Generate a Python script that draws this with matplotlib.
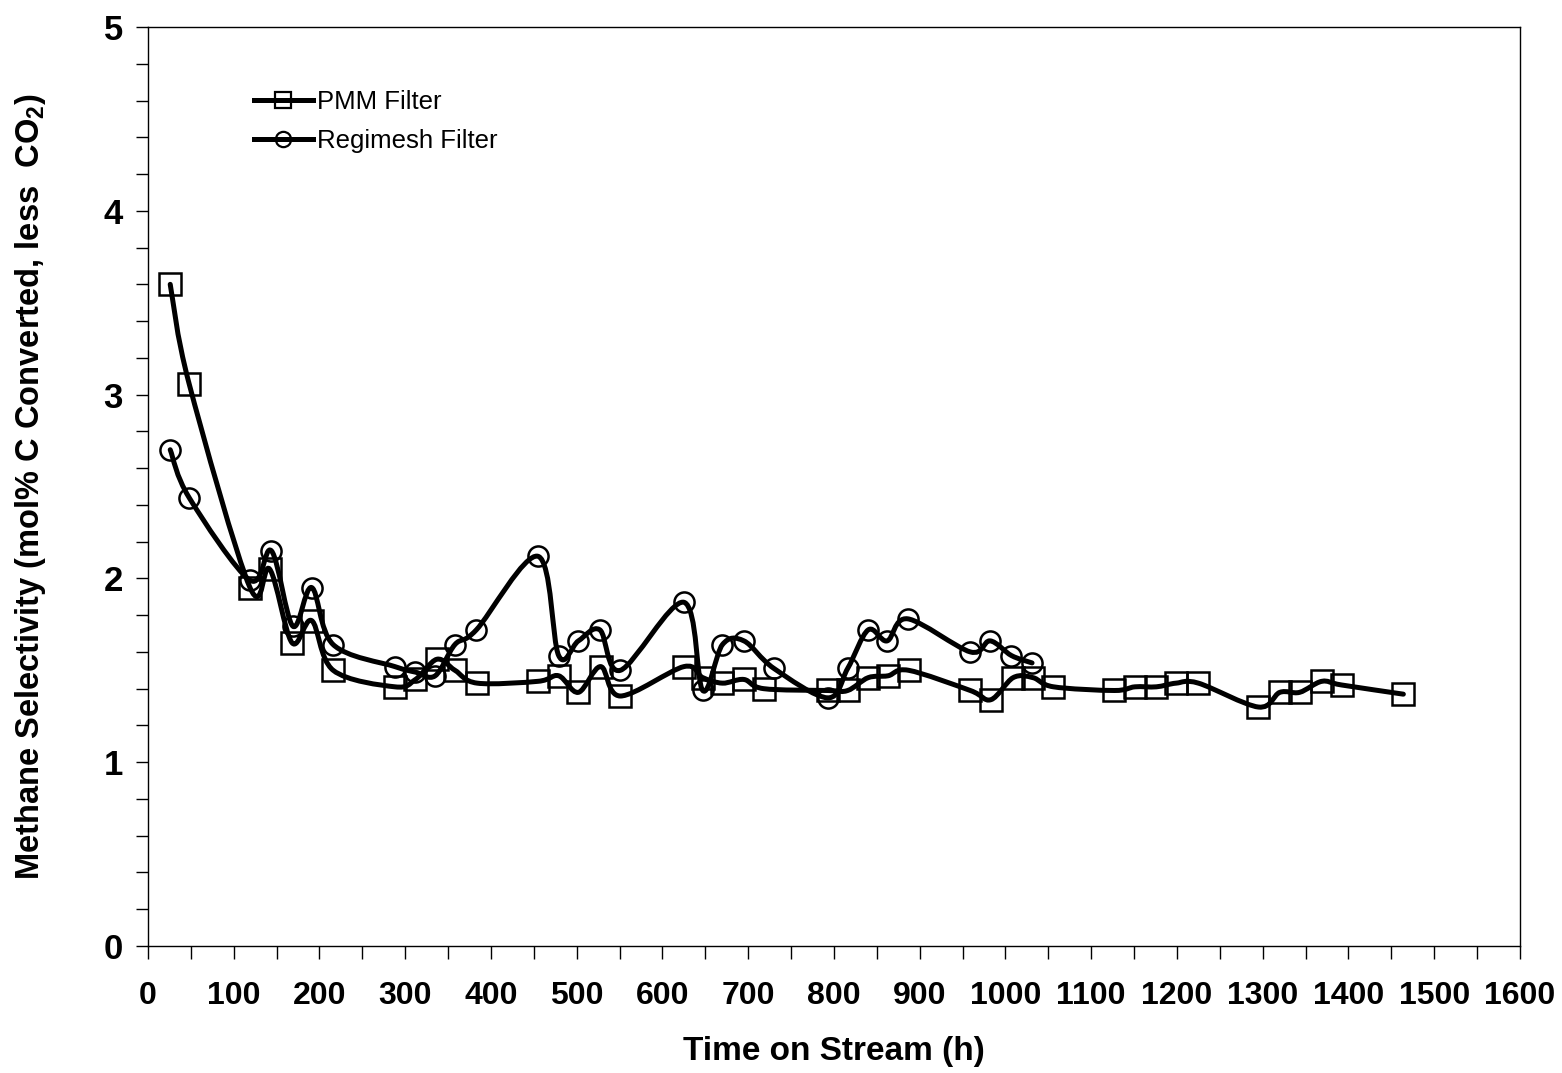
import numpy as np
import matplotlib
matplotlib.use("Agg")
from matplotlib import pyplot as plt
from matplotlib.path import Path
from matplotlib.patches import PathPatch
from matplotlib.lines import Line2D
from matplotlib.ticker import MultipleLocator

# PMM filter (squares)
pmm_t = [26, 48, 119, 142, 168, 191, 216, 288, 312, 337, 358, 384, 455, 479, 502, 528,
         551, 625, 647, 670, 695, 718, 793, 816, 840, 863, 887, 959, 983, 1009, 1032,
         1056, 1127, 1151, 1176, 1199, 1225, 1295, 1320, 1343, 1369, 1392, 1464]
pmm_s = [3.60, 3.06, 1.95, 2.05, 1.65, 1.77, 1.50, 1.41, 1.45, 1.56, 1.50, 1.43, 1.44, 1.47,
         1.38, 1.52, 1.36, 1.52, 1.46, 1.43, 1.45, 1.40, 1.39, 1.39, 1.46, 1.47, 1.50, 1.39,
         1.34, 1.46, 1.46, 1.41, 1.39, 1.41, 1.41, 1.43, 1.43, 1.30, 1.38, 1.38, 1.44, 1.42,
         1.37]

# Regimesh filter (circles)
reg_t = [26, 48, 119, 144, 169, 191, 216, 288, 312, 335, 358, 383, 455, 479, 502, 527,
         551, 625, 647, 670, 695, 730, 793, 816, 840, 862, 886, 959, 982, 1007, 1031]
reg_s = [2.70, 2.44, 1.99, 2.15, 1.74, 1.95, 1.64, 1.52, 1.49, 1.47, 1.64, 1.72, 2.12, 1.58,
         1.66, 1.72, 1.50, 1.87, 1.39, 1.64, 1.66, 1.51, 1.35, 1.51, 1.72, 1.66, 1.78, 1.60,
         1.66, 1.58, 1.54]


def smooth_path(x, y):
    # Excel-style smoothed line: cubic Bezier through each point
    p = np.column_stack([x, y]).astype(float)
    n = len(p)
    verts = [p[0]]
    codes = [Path.MOVETO]
    for i in range(n - 1):
        p0 = p[i - 1] if i > 0 else p[i]
        p1 = p[i]
        p2 = p[i + 1]
        p3 = p[i + 2] if i + 2 < n else p[i + 1]
        verts += [p1 + (p2 - p0) / 6, p2 - (p3 - p1) / 6, p2]
        codes += [Path.CURVE4] * 3
    return Path(verts, codes)


plt.rcParams['font.family'] = ['Liberation Sans', 'DejaVu Sans']
plt.rcParams['mathtext.fontset'] = 'custom'
plt.rcParams['mathtext.rm'] = 'Liberation Sans:bold'
plt.rcParams['mathtext.bf'] = 'Liberation Sans:bold'

fig = plt.figure(figsize=(15.62, 10.73), dpi=100)
ax = fig.add_axes([0.0947, 0.1184, 0.8784, 0.8564])

for t, s, m in [(pmm_t, pmm_s, 's'), (reg_t, reg_s, 'o')]:
    ax.add_patch(PathPatch(smooth_path(t, s), fill=False, lw=3.6, ec='black',
                           capstyle='round', joinstyle='round', zorder=2))
    ax.plot(t, s, linestyle='none', marker=m, ms=16 if m == 's' else 14.5,
            mfc='none', mec='black', mew=1.8, zorder=3)

ax.set_xlim(0, 1600)
ax.set_ylim(0, 5)
ax.xaxis.set_major_locator(MultipleLocator(100))
ax.xaxis.set_minor_locator(MultipleLocator(50))
ax.yaxis.set_major_locator(MultipleLocator(1))
ax.yaxis.set_minor_locator(MultipleLocator(0.2))
ax.tick_params(which='both', direction='out', length=9, width=1)
ax.tick_params(axis='x', which='major', pad=16)
ax.tick_params(axis='y', which='major', pad=9)
for sp in ax.spines.values():
    sp.set_linewidth(1.0)

for lb in ax.get_xticklabels():
    lb.set_fontweight('bold')
    lb.set_fontsize(23)
for lb in ax.get_yticklabels():
    lb.set_fontweight('bold')
    lb.set_fontsize(25)

ax.set_xlabel('Time on Stream (h)', fontweight='bold', fontsize=24)
ax.xaxis.set_label_coords(0.5, -0.098)
ax.xaxis.label.set_va('top')
ax.set_ylabel(r'Methane Selectivity (mol% C Converted, less  CO$_{\mathbf{2}}$)',
              fontweight='bold', fontsize=23.5)
ax.yaxis.set_label_coords(-0.073, 0.5)

handles = [Line2D([], [], color='black', lw=3.6, marker='s', ms=11, mfc='none', mew=1.6),
           Line2D([], [], color='black', lw=3.6, marker='o', ms=11, mfc='none', mew=1.6)]
ax.legend(handles, ['PMM Filter', 'Regimesh Filter'], loc='upper left',
          bbox_to_anchor=(0.077, 0.932), frameon=False, fontsize=18.5,
          handlelength=2.3, handletextpad=0.15, labelspacing=0.62,
          borderaxespad=0, borderpad=0)

fig.savefig('out.png', dpi=100)
